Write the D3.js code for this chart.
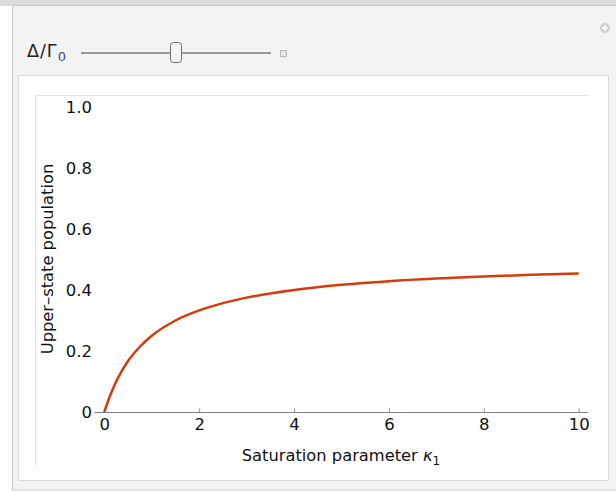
<!DOCTYPE html>
<html>
<head>
<meta charset="utf-8">
<script src="https://cdn.jsdelivr.net/npm/d3@7"></script>
<style>
  body { margin: 0; background: #ffffff; }
  text { font-family: "DejaVu Sans", "Liberation Sans", sans-serif; }
</style>
</head>
<body>
<script>
// values (kappa -> upper-state population)
const kappa = [0, 0.1, 0.2, 0.3, 0.5, 0.75, 1, 1.5, 2, 2.5, 3, 4, 5, 6, 7, 8, 9, 10];
const population = [0, 0.045, 0.083, 0.115, 0.167, 0.214, 0.25, 0.30, 0.333, 0.357, 0.375, 0.40, 0.417, 0.429, 0.4375, 0.444, 0.45, 0.4545];
const xTicks = [0, 2, 4, 6, 8, 10];
const yTicks = [0, 0.2, 0.4, 0.6, 0.8, 1.0];
const yTickLabels = ["0", "0.2", "0.4", "0.6", "0.8", "1.0"];

const svgWidth = 616;
const svgHeight = 492;

const svg = d3.select("body").append("svg")
    .attr("width", svgWidth)
    .attr("height", svgHeight);

// window chrome
svg.append("rect")
    .attr("x", 0).attr("y", 0)
    .attr("width", svgWidth).attr("height", 6)
    .style("fill", "#dcdcdc");

svg.append("rect")
    .attr("x", 12.5).attr("y", 5.5)
    .attr("width", 620).attr("height", 484.5)
    .style("fill", "#f3f3f3")
    .style("stroke", "#c8c8c8");

svg.append("rect")
    .attr("x", 18.5).attr("y", 75.5)
    .attr("width", 590).attr("height", 405)
    .style("fill", "#ffffff")
    .style("stroke", "#dadada");

// little plus button
svg.append("circle")
    .attr("cx", 605).attr("cy", 28).attr("r", 5)
    .style("fill", "#d0d0d0");
svg.append("path")
    .attr("d", "M602,28H608M605,25V31")
    .style("stroke", "#ffffff").style("stroke-width", 1.5);

// slider control
const label = svg.append("text")
    .attr("x", 27).attr("y", 57)
    .style("font-size", "17.5px")
    .style("letter-spacing", "1px")
    .style("fill", "#222");
label.append("tspan").text("Δ/Γ");
label.append("tspan")
    .attr("dy", 4)
    .style("font-size", "13px")
    .style("fill", "#35507a")
    .text("0");

svg.append("line")
    .attr("x1", 81).attr("x2", 271)
    .attr("y1", 53).attr("y2", 53)
    .style("stroke", "#7a7a7a").style("stroke-width", 1.5);

svg.append("rect")
    .attr("x", 170.5).attr("y", 42.5)
    .attr("width", 11).attr("height", 20).attr("rx", 3)
    .style("fill", "#f4f4f4").style("stroke", "#707070");

svg.append("rect")
    .attr("x", 280.5).attr("y", 50.5)
    .attr("width", 6).attr("height", 6)
    .style("fill", "#e6e6e6").style("stroke", "#b8b8b8");

// faint plot frame (top + left)
svg.append("path")
    .attr("d", "M35.5,466V95.5H589")
    .style("fill", "none")
    .style("stroke", "#e2e2e2");

const x = d3.scaleLinear().domain([0, 10]).range([104.3, 578.7]);
const y = d3.scaleLinear().domain([0, 1]).range([412, 107]);

// x axis
svg.append("line")
    .attr("x1", x(-0.21)).attr("x2", x(10.2))
    .attr("y1", y(0) + 0.5).attr("y2", y(0) + 0.5)
    .style("stroke", "#808080");

const xAxis = svg.append("g")
    .attr("transform", `translate(0,${y(0) + 0.5})`)
    .call(d3.axisBottom(x).tickValues(xTicks).tickSize(-4).tickPadding(6).tickFormat(d3.format("d")));
xAxis.select(".domain").remove();
xAxis.selectAll(".tick line").style("stroke", "#909090");
xAxis.selectAll(".tick text")
    .style("font-family", "'DejaVu Sans', 'Liberation Sans', sans-serif")
    .style("font-size", "16.5px")
    .style("fill", "#111");

// y tick labels (no axis line)
svg.selectAll(".ylab")
    .data(yTicks)
    .enter()
    .append("text")
    .attr("class", "ylab")
    .attr("x", 92)
    .attr("y", d => y(d))
    .attr("dy", "0.35em")
    .attr("text-anchor", "end")
    .style("font-size", "16.5px")
    .style("fill", "#111")
    .text((d, i) => yTickLabels[i]);

// axis titles
const xTitle = svg.append("text")
    .attr("x", 341).attr("y", 461)
    .attr("text-anchor", "middle")
    .style("font-size", "16.3px")
    .style("fill", "#111");
xTitle.append("tspan").text("Saturation parameter ");
xTitle.append("tspan").style("font-style", "italic").text("κ");
xTitle.append("tspan").attr("dy", 4).style("font-size", "12px").text("1");

svg.append("text")
    .attr("transform", "translate(47,259) rotate(-90)")
    .attr("text-anchor", "middle")
    .attr("dy", "0.35em")
    .style("font-size", "16.3px")
    .style("fill", "#111")
    .text("Upper–state population");

// curve
const line = d3.line()
    .x((d, i) => x(kappa[i]))
    .y(d => y(d))
    .curve(d3.curveMonotoneX);

svg.append("path")
    .datum(population)
    .attr("d", line)
    .style("fill", "none")
    .style("stroke", "#d83a0c")
    .style("stroke-width", 2.5);
</script>
</body>
</html>
